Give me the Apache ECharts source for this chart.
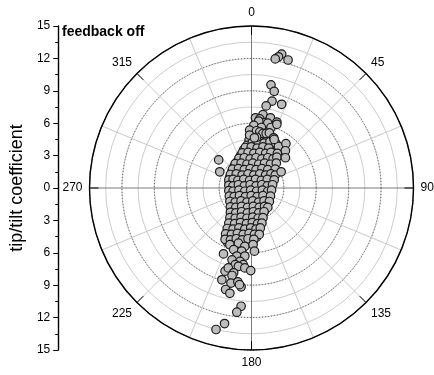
<!DOCTYPE html>
<html>
<head>
<meta charset="utf-8">
<script src="https://cdn.jsdelivr.net/npm/echarts@6/dist/echarts.min.js"></script>
<style>
  html, body { margin: 0; padding: 0; background: #fff; }
  #chart { width: 434px; height: 375px; }
</style>
</head>
<body>
<div id="chart"></div>
<script>
// Tip/tilt coefficients, [tip, tilt]
const coreSamples = [
  [-0.4,4.45],[0.15,4.3],[0.7,4.5],[1.25,4.35],[1.7,4.55],[2.0,4.25],
  [-0.6,3.95],[-0.05,4.1],[0.5,3.9],[1.0,4.05],[1.5,3.85],[1.95,4.0],[2.2,3.7],
  [-0.9,3.55],[-0.35,3.4],[0.2,3.6],[0.75,3.45],[1.3,3.6],[1.8,3.4],[2.1,3.3],
  [-1.2,3.0],[-0.7,3.15],[-0.15,2.9],[0.4,3.05],[0.95,2.95],[1.5,3.1],[2.0,2.95],
  [-1.5,2.45],[-1.0,2.6],[-0.45,2.4],[0.1,2.55],[0.65,2.45],[1.2,2.6],[1.7,2.4],[2.0,2.6],
  [-1.8,2.0],[-1.25,1.9],[-0.7,2.1],[-0.15,1.95],[0.4,2.05],[0.95,1.9],[1.5,2.1],[1.9,1.95],
  [-2.0,1.55],[-1.5,1.4],[-0.95,1.6],[-0.4,1.45],[0.15,1.55],[0.7,1.4],[1.25,1.6],[1.85,1.45],
  [-2.2,1.0],[-1.7,1.1],[-1.15,0.95],[-0.6,1.05],[-0.05,0.9],[0.5,1.05],[1.05,0.95],[1.55,1.1],[1.8,0.85],
  [-2.25,0.5],[-1.75,0.4],[-1.2,0.55],[-0.65,0.45],[-0.1,0.6],[0.45,0.4],[1.0,0.55],[1.45,0.45],[1.7,0.6],
  [-2.2,0.0],[-1.65,0.1],[-1.1,-0.05],[-0.55,0.05],[0.0,-0.1],[0.55,0.05],[1.1,-0.05],[1.5,0.1],
  [-2.15,-0.5],[-1.6,-0.6],[-1.05,-0.45],[-0.5,-0.55],[0.05,-0.4],[0.6,-0.55],[1.1,-0.45],[1.45,-0.6],
  [-2.0,-1.0],[-1.45,-0.9],[-0.9,-1.05],[-0.35,-0.95],[0.2,-1.1],[0.75,-0.95],[1.2,-1.05],[1.35,-0.8],
  [-1.95,-1.5],[-1.4,-1.6],[-0.85,-1.45],[-0.3,-1.55],[0.25,-1.4],[0.8,-1.55],[1.25,-1.45],
  [-1.95,-2.0],[-1.4,-1.9],[-0.85,-2.05],[-0.3,-1.95],[0.25,-2.1],[0.75,-1.95],[1.1,-2.05],
  [-1.95,-2.5],[-1.4,-2.6],[-0.85,-2.45],[-0.3,-2.55],[0.2,-2.4],[0.65,-2.55],[0.9,-2.4],
  [-2.0,-3.0],[-1.45,-2.9],[-0.9,-3.05],[-0.35,-2.95],[0.15,-3.1],[0.6,-2.95],[0.7,-3.15],
  [-2.15,-3.5],[-1.6,-3.6],[-1.05,-3.45],[-0.5,-3.55],[0.05,-3.4],[0.55,-3.55],
  [-2.35,-4.0],[-1.8,-3.9],[-1.25,-4.05],[-0.7,-3.95],[-0.15,-4.1],[0.35,-3.95],[0.5,-4.15],
  [-2.45,-4.5],[-1.9,-4.6],[-1.35,-4.45],[-0.8,-4.55],[-0.25,-4.4],[0.3,-4.55],
  [-2.45,-5.0],[-1.9,-4.9],[-1.35,-5.05],[-0.8,-4.95],[-0.25,-5.1],[0.0,-4.85]
];

const coreFill = [
  [-0.1,4.2],[0.45,4.25],[1.0,4.15],[1.55,4.3],[2.1,4.15],
  [-0.75,3.75],[-0.2,3.8],[0.35,3.7],[0.9,3.8],[1.45,3.7],[2.35,3.85],
  [-1.05,3.25],[-0.5,3.3],[0.05,3.2],[0.6,3.3],[1.15,3.2],[1.65,3.3],[2.25,3.2],
  [-1.35,2.75],[-0.85,2.8],[-0.3,2.7],[0.25,2.8],[0.8,2.7],[1.35,2.8],[1.85,2.7],[2.2,2.85],
  [-1.7,2.25],[-1.15,2.3],[-0.6,2.2],[-0.05,2.3],[0.5,2.2],[1.05,2.3],[1.6,2.2],[2.15,2.3],
  [-1.95,1.75],[-1.4,1.8],[-0.85,1.7],[-0.3,1.8],[0.25,1.7],[0.8,1.8],[1.35,1.7],[2.05,1.75],
  [-2.15,1.25],[-1.6,1.3],[-1.05,1.2],[-0.5,1.3],[0.05,1.2],[0.6,1.3],[1.15,1.2],[1.65,1.3],[2.05,1.2],
  [-2.3,0.75],[-1.9,0.8],[-1.45,0.7],[-0.9,0.8],[-0.35,0.7],[0.2,0.8],[0.75,0.7],[1.3,0.8],[1.95,0.75],
  [-2.3,0.25],[-1.9,0.2],[-1.4,0.3],[-0.85,0.2],[-0.3,0.3],[0.25,0.2],[0.8,0.3],[1.3,0.2],[1.8,0.3],
  [-2.3,-0.25],[-1.9,-0.3],[-1.35,-0.2],[-0.8,-0.3],[-0.25,-0.2],[0.3,-0.3],[0.85,-0.2],[1.35,-0.3],[1.7,-0.2],
  [-2.25,-0.75],[-1.8,-0.8],[-1.3,-0.7],[-0.75,-0.8],[-0.2,-0.7],[0.35,-0.8],[0.9,-0.7],[1.6,-0.75],
  [-2.2,-1.25],[-1.7,-1.3],[-1.15,-1.2],[-0.6,-1.3],[-0.05,-1.2],[0.5,-1.3],[1.0,-1.2],[1.5,-1.25],
  [-2.15,-1.75],[-1.65,-1.8],[-1.1,-1.7],[-0.55,-1.8],[0.0,-1.7],[0.55,-1.8],[1.05,-1.7],[1.35,-1.8],
  [-2.15,-2.25],[-1.65,-2.3],[-1.1,-2.2],[-0.55,-2.3],[0.0,-2.2],[0.5,-2.3],[1.0,-2.2],
  [-2.2,-2.75],[-1.7,-2.8],[-1.15,-2.7],[-0.6,-2.8],[-0.05,-2.7],[0.45,-2.8],[0.9,-2.75],
  [-2.3,-3.25],[-1.75,-3.3],[-1.2,-3.2],[-0.65,-3.3],[-0.1,-3.2],[0.4,-3.3],[0.8,-3.25],
  [-2.45,-3.75],[-1.9,-3.8],[-1.35,-3.7],[-0.8,-3.8],[-0.25,-3.7],[0.25,-3.8],[0.65,-3.7],
  [-2.6,-4.25],[-2.05,-4.3],[-1.5,-4.2],[-0.95,-4.3],[-0.4,-4.2],[0.1,-4.3],[0.55,-4.3],
  [-2.65,-4.75],[-2.15,-4.8],[-1.6,-4.7],[-1.05,-4.8],[-0.5,-4.7],[0.05,-4.75]
];

const upperSamples = [
  [1.65,9.55],[1.95,8.95],[1.75,8.05],[2.65,7.75],[1.2,7.6],
  [0.9,6.8],[0.2,6.5],[1.6,6.5],[0.6,6.4],[0.95,6.05],[0.5,6.2],[2.2,6.1],
  [0.05,5.8],[1.35,6.0],[0.75,5.6],[1.65,5.6],[2.2,5.9],[-0.35,5.35],[0.3,5.3],
  [0.6,5.2],[0.9,5.05],[1.2,5.05],[1.5,5.1],[-0.35,4.9],[0.3,4.7],[0.1,4.65],
  [1.9,4.65],[1.95,4.5],
  [3.05,4.1],[3.0,3.45],[3.0,2.8],[2.6,1.5]
];

const lowerSamples = [
  [-2.2,-5.25],[-1.4,-5.1],[-0.8,-5.4],[-0.03,-5.25],[-1.85,-5.7],[-1.1,-5.85],
  [0.1,-5.85],[-1.55,-6.3],[-0.8,-6.3],[-2.0,-6.65],[-1.25,-6.8],[-1.7,-7.1],
  [-0.95,-7.1],[-1.4,-7.25],[-0.8,-7.4],[-2.8,-6.1],
  [-2.65,-7.7],[-2.35,-7.4],[-0.25,-7.65],[-2.95,-8.5],[-1.85,-7.85],[-2.0,-8.1],
  [-2.1,-8.8],[-1.45,-8.7],[-1.15,-9.15],[-1.3,-8.95],[-2.6,-9.4],[-2.2,-9.75],
  [-1.15,-10.95],[-1.55,-11.5],[-2.7,-12.55],[-3.5,-13.1]
];

const strays = [
  [2.65,12.4],[2.35,12.15],[2.05,11.95],[3.25,11.85],
  [-3.25,2.6],[-3.15,1.5]
];

const radialMax = 15;
const radialStep = 3;
const angleLabelStep = 45;
const spokeStep = 22.5;
const panelTitle = 'feedback off';
const axisTitle = 'tip/tilt coefficient';

const FONT = 'Liberation Sans, Arial, Helvetica, sans-serif';
const CX = 251.5, CY = 188, R = 162;

const chart = echarts.init(document.getElementById('chart'), null, { renderer: 'canvas' });

const option = {
  animation: false,
  backgroundColor: '#fff',
  textStyle: { fontFamily: FONT },
  polar: [
    { center: [CX, CY], radius: R },
    { center: [CX, CY], radius: R }
  ],
  angleAxis: [
    {
      polarIndex: 0, type: 'value', min: 0, max: 360, interval: spokeStep,
      startAngle: 90, clockwise: true,
      axisLine: { show: false }, axisTick: { show: false }, axisLabel: { show: false },
      splitLine: { show: true, lineStyle: { color: ['#7a7a7a', '#c9c9c9', '#c9c9c9', '#c9c9c9'], width: 1 } }
    },
    {
      polarIndex: 1, type: 'value', min: 0, max: 360, interval: angleLabelStep,
      startAngle: 90, clockwise: true,
      axisLine: { show: true, lineStyle: { color: '#000', width: 1.4 } },
      axisTick: { show: true, inside: true, length: 9, lineStyle: { color: '#000', width: 1 } },
      axisLabel: {
        show: true, color: '#000', fontSize: 12, fontFamily: FONT, margin: 7,
        formatter: v => (v >= 360 ? '' : String(v))
      },
      splitLine: { show: false }
    }
  ],
  radiusAxis: [
    {
      polarIndex: 0, type: 'value', min: 0, max: radialMax, interval: radialStep / 2,
      axisLine: { show: false }, axisTick: { show: false }, axisLabel: { show: false },
      splitLine: { show: true, lineStyle: { color: '#cdcdcd', width: 1 } }
    },
    {
      polarIndex: 1, type: 'value', min: 0, max: radialMax, interval: radialStep,
      axisLine: { show: false }, axisTick: { show: false }, axisLabel: { show: false },
      splitLine: { show: true, lineStyle: { color: '#555', width: 1, type: [1, 2] } }
    }
  ],
  grid: { left: CX - R, top: CY - R, width: 2 * R, height: 2 * R, containLabel: false },
  xAxis: { type: 'value', min: -radialMax, max: radialMax, show: false },
  yAxis: {
    type: 'value', min: -radialMax, max: radialMax, interval: radialStep,
    position: 'left', offset: 35,
    axisLine: { show: true, onZero: false, lineStyle: { color: '#000', width: 1.4 } },
    axisTick: { show: true, length: 5, lineStyle: { color: '#000' } },
    minorTick: { show: true, splitNumber: 2, length: 3, lineStyle: { color: '#000' } },
    splitLine: { show: false },
    minorSplitLine: { show: false },
    axisLabel: { color: '#000', fontSize: 12, fontFamily: FONT, margin: 8, formatter: v => String(Math.abs(v)) },
    name: axisTitle, nameLocation: 'middle', nameGap: 28,
    nameTextStyle: { color: '#000', fontSize: 18, fontFamily: FONT }
  },
  graphic: [
    {
      type: 'text', left: 62, top: 25,
      style: { text: panelTitle, font: 'bold 14px ' + FONT, fill: '#000' }
    }
  ],
  series: [
    {
      type: 'scatter', coordinateSystem: 'cartesian2d',
      data: [].concat(coreSamples, coreFill, upperSamples, lowerSamples, strays),
      symbol: 'circle', symbolSize: 8.5,
      itemStyle: { color: '#bdbdbd', borderColor: '#1c1c1c', borderWidth: 1.2, opacity: 1 },
      emphasis: { disabled: true },
      z: 5
    }
  ]
};

chart.setOption(option);
</script>
</body>
</html>
